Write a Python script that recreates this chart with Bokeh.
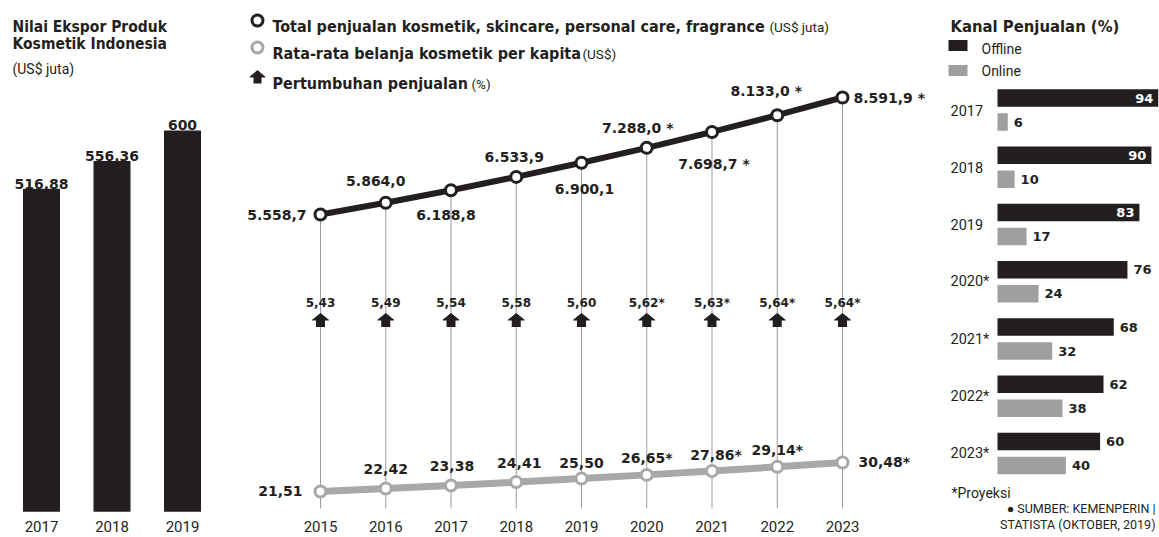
from bokeh.plotting import figure
from bokeh.layouts import row
from bokeh.models import Range1d, ColumnDataSource
from bokeh.core.properties import value, field
from bokeh.embed import file_html
from bokeh.resources import INLINE

# ---------------- data ----------------
export_years = [2017, 2018, 2019]
export_year_labels = ["2017", "2018", "2019"]
export_values = [516.88, 556.36, 600]
export_labels = ["516,88", "556,36", "600"]

sales_years = [2015, 2016, 2017, 2018, 2019, 2020, 2021, 2022, 2023]
sales_year_labels = ["2015", "2016", "2017", "2018", "2019", "2020", "2021", "2022", "2023"]
total_sales = [5558.7, 5864.0, 6188.8, 6533.9, 6900.1, 7288.0, 7698.7, 8133.0, 8591.9]
total_labels = ["5.558,7", "5.864,0", "6.188,8", "6.533,9", "6.900,1",
                "7.288,0 *", "7.698,7 *", "8.133,0 *", "8.591,9 *"]
per_capita = [21.51, 22.42, 23.38, 24.41, 25.50, 26.65, 27.86, 29.14, 30.48]
per_capita_labels = ["21,51", "22,42", "23,38", "24,41", "25,50",
                     "26,65*", "27,86*", "29,14*", "30,48*"]
growth = [5.43, 5.49, 5.54, 5.58, 5.60, 5.62, 5.63, 5.64, 5.64]
growth_labels = ["5,43", "5,49", "5,54", "5,58", "5,60", "5,62*", "5,63*", "5,64*", "5,64*"]

channel_years = ["2017", "2018", "2019", "2020*", "2021*", "2022*", "2023*"]
offline = [94, 90, 83, 76, 68, 62, 60]
online = [6, 10, 17, 24, 32, 38, 40]

# ---------------- styles ----------------
BLACK = "#231f20"
GREY_LINE = "#a8a8a8"
GREY_BAR = "#9f9f9f"
GUIDE = "#9b9b9b"
HEAD_FONT = value("DejaVu Sans Condensed")
NUM_FONT = value("DejaVu Sans")
REG_FONT = value("Roboto")
H = 537


def base_fig(w, x_range, y_range):
    p = figure(width=w, height=H, x_range=x_range, y_range=y_range,
               output_backend="svg", toolbar_location=None,
               x_axis_location=None, y_axis_location=None, min_border=0)
    p.outline_line_color = None
    p.xgrid.visible = False
    p.ygrid.visible = False
    p.background_fill_color = "white"
    p.border_fill_color = "white"
    # pixel-like layout ranges (y measured from top)
    p.extra_x_ranges = {"px": Range1d(0, w)}
    p.extra_y_ranges = {"px": Range1d(start=H, end=0)}
    return p


def txt(p, x, y, s, font, size, bold=False, color=BLACK, align="left",
        baseline="alphabetic"):
    p.text(x=[x], y=[y], text=[s], text_font=font, text_font_size=size,
           text_font_style="bold" if bold else "normal", text_color=color,
           text_align=align, text_baseline=baseline,
           x_range_name="px", y_range_name="px")


YEAR_BASELINE = 526

# ================= LEFT PANEL: export =================
W_L = 232
PX_PER_YEAR_L = 70.5
X0_L = 41
left_x = Range1d(2017 - X0_L / PX_PER_YEAR_L, 2017 + (W_L - X0_L) / PX_PER_YEAR_L)
left_y = Range1d(18.6, 785.7)
pl = base_fig(W_L, left_x, left_y)
BAR_BASE = 55.5
pl.vbar(x=export_years, top=export_values, bottom=BAR_BASE, width=0.525,
        fill_color=BLACK, line_color=None)
pl.text(x=export_years, y=export_values, text=export_labels, text_font=NUM_FONT,
        text_font_size="14px", text_font_style="bold", text_color=BLACK,
        text_align="center", text_baseline="alphabetic", y_offset=-5)
pl.text(x=export_years, y=[YEAR_BASELINE] * 3, text=export_year_labels, y_range_name="px",
        text_font=REG_FONT, text_font_size="15px", text_color=BLACK,
        text_align="center", text_baseline="alphabetic")
txt(pl, 12, 26, "Nilai Ekspor Produk", HEAD_FONT, "15.5px", bold=True)
txt(pl, 12, 43.5, "Kosmetik Indonesia", HEAD_FONT, "15.5px", bold=True)
txt(pl, 12, 68, "(US$ juta)", REG_FONT, "14px")

# ================= MIDDLE PANEL: sales =================
W_M = 710
PX_PER_YEAR = 65.25
X0_M = 88
mid_x = Range1d(2015 - X0_M / PX_PER_YEAR, 2015 + (W_M - X0_M) / PX_PER_YEAR)
TOTAL_MIN, TOTAL_MAX = -2815.7, 11107.1
CAP_MIN, CAP_MAX = 7.28, 173.38
pm = base_fig(W_M, mid_x, Range1d(TOTAL_MIN, TOTAL_MAX))
pm.extra_y_ranges["capita"] = Range1d(CAP_MIN, CAP_MAX)

guide_bottom = TOTAL_MAX - 508.0 / H * (TOTAL_MAX - TOTAL_MIN)
pm.segment(x0=sales_years, y0=total_sales, x1=sales_years, y1=[guide_bottom] * len(sales_years),
           line_color=GUIDE, line_width=1)

# growth arrows + labels
hw = 8.0 / PX_PER_YEAR
pm.patches(xs=[[yr - hw, yr, yr + hw] for yr in sales_years],
           ys=[[319.5, 313, 319.5] for _ in sales_years], y_range_name="px",
           fill_color=BLACK, line_color=BLACK, line_width=1)
pm.rect(x=sales_years, y=[323] * len(sales_years), width=9, height=7,
        width_units="screen", height_units="screen", y_range_name="px",
        fill_color=BLACK, line_color=None)
pm.text(x=sales_years, y=[302] * len(sales_years), text=growth_labels, y_range_name="px",
        text_font=NUM_FONT, text_font_size="12px", text_font_style="bold",
        text_color=BLACK, text_align="center", text_baseline="middle")

# lines
pm.line(sales_years, per_capita, y_range_name="capita", line_color=GREY_LINE, line_width=7)
pm.line(sales_years, total_sales, line_color=BLACK, line_width=6)
pm.scatter(sales_years, per_capita, y_range_name="capita", size=11, fill_color="white",
           line_color=GREY_LINE, line_width=3)
pm.scatter(sales_years, total_sales, size=11, fill_color="white",
           line_color=BLACK, line_width=3)

# value labels (placement styles)
tot_dx = [-14, -10, -5, -2, 3, -9, 2, -11, 11]
tot_dy = [0, -22, 25, -20, 26, -20, 32, -24, 0]
tot_al = ["right", "center", "center", "center", "center", "center", "center", "center", "left"]
src_t = ColumnDataSource(dict(x=sales_years, y=total_sales, t=total_labels,
                              dx=tot_dx, dy=tot_dy, al=tot_al))
pm.text(x="x", y="y", text="t", x_offset="dx", y_offset="dy", text_align=field("al"),
        source=src_t, text_font=NUM_FONT, text_font_size="14px", text_font_style="bold",
        text_color=BLACK, text_baseline="middle")

cap_dx = [-18, 0, 1, 3, 0, 0, 4, 0, 16]
cap_dy = [0, -20, -19, -19, -16, -17, -16, -17, 0]
cap_al = ["right", "center", "center", "center", "center", "center", "center", "center", "left"]
src_c = ColumnDataSource(dict(x=sales_years, y=per_capita, t=per_capita_labels,
                              dx=cap_dx, dy=cap_dy, al=cap_al))
pm.text(x="x", y="y", text="t", x_offset="dx", y_offset="dy", text_align=field("al"),
        source=src_c, y_range_name="capita", text_font=NUM_FONT, text_font_size="14px",
        text_font_style="bold", text_color=BLACK, text_baseline="middle")

pm.text(x=sales_years, y=[YEAR_BASELINE] * len(sales_years), text=sales_year_labels,
        y_range_name="px", text_font=REG_FONT, text_font_size="15px", text_color=BLACK,
        text_align="center", text_baseline="alphabetic")

# legend
pm.scatter(x=[25], y=[20], x_range_name="px", y_range_name="px", size=11,
           fill_color="white", line_color=BLACK, line_width=3)
pm.scatter(x=[25], y=[47], x_range_name="px", y_range_name="px", size=11,
           fill_color="white", line_color=GREY_LINE, line_width=3)
pm.patches(xs=[[17.5, 25, 32.5]], ys=[[76.5, 70, 76.5]], x_range_name="px", y_range_name="px",
           fill_color=BLACK, line_color=BLACK)
pm.quad(left=[21], right=[29], top=[76], bottom=[83], x_range_name="px", y_range_name="px",
        fill_color=BLACK, line_color=None)
txt(pm, 40, 26, "Total penjualan kosmetik, skincare, personal care, fragrance", HEAD_FONT, "16px", bold=True)
txt(pm, 537, 26, "(US$ juta)", REG_FONT, "13.5px")
txt(pm, 40, 53, "Rata-rata belanja kosmetik per kapita", HEAD_FONT, "16px", bold=True)
txt(pm, 350, 53, "(US$)", REG_FONT, "13.5px")
txt(pm, 40, 83, "Pertumbuhan penjualan", HEAD_FONT, "16px", bold=True)
txt(pm, 239, 83, "(%)", REG_FONT, "13.5px")

# ================= RIGHT PANEL: channels =================
W_R = 217
PX_PER_PCT = 1.71
X0_R = 55
right_x = Range1d(-X0_R / PX_PER_PCT, (W_R - X0_R) / PX_PER_PCT)
ROW_PX = 57.25
Y0_R = 109.5
right_y = Range1d(start=(H - Y0_R) / ROW_PX, end=-Y0_R / ROW_PX)
pr = base_fig(W_R, right_x, right_y)
idx = list(range(len(channel_years)))
dodge = 12.0 / ROW_PX
bar_h = 17.5 / ROW_PX
pr.hbar(y=[i - dodge for i in idx], left=0, right=offline, height=bar_h,
        fill_color=BLACK, line_color=None)
pr.hbar(y=[i + dodge for i in idx], left=0, right=online, height=bar_h,
        fill_color=GREY_BAR, line_color=None)
inside = [v >= 80 for v in offline]
src_off = ColumnDataSource(dict(
    x=offline, y=[i - dodge for i in idx], t=[str(v) for v in offline],
    dx=[-5 if f else 6 for f in inside],
    al=["right" if f else "left" for f in inside],
    col=["white" if f else BLACK for f in inside]))
pr.text(x="x", y="y", text="t", x_offset="dx", text_align=field("al"), text_color="col",
        source=src_off, text_font=NUM_FONT, text_font_size="13px", text_font_style="bold",
        text_baseline="middle")
pr.text(x=online, y=[i + dodge for i in idx], text=[str(v) for v in online], x_offset=6,
        text_font=NUM_FONT, text_font_size="13px", text_font_style="bold",
        text_color=BLACK, text_align="left", text_baseline="middle")
pr.text(x=[8] * len(idx), y=idx, text=channel_years, x_range_name="px",
        text_font=REG_FONT, text_font_size="14.5px", text_color=BLACK,
        text_align="left", text_baseline="middle")

txt(pr, 8, 26, "Kanal Penjualan (%)", HEAD_FONT, "16.5px", bold=True)
pr.rect(x=[15.5, 15.5], y=[45, 70], width=19, height=11, x_range_name="px", y_range_name="px",
        fill_color=[BLACK, GREY_BAR], line_color=None)
txt(pr, 39, 48, "Offline", REG_FONT, "14px", baseline="middle")
txt(pr, 39, 70, "Online", REG_FONT, "14px", baseline="middle")
txt(pr, 9, 492, "*Proyeksi", REG_FONT, "14px", baseline="middle")
txt(pr, 213, 508, "\u25cf SUMBER: KEMENPERIN |", REG_FONT, "12.5px", align="right", baseline="middle")
txt(pr, 213, 524, "STATISTA (OKTOBER, 2019)", REG_FONT, "12.5px", align="right", baseline="middle")

layout = row(pl, pm, pr, spacing=0)
open("out.html", "w").write(file_html(layout, INLINE))
